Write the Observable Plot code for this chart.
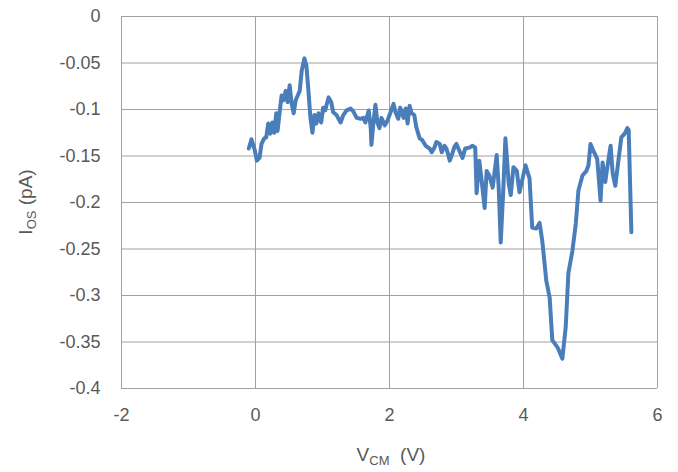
<!DOCTYPE html>
<html>
<head>
<meta charset="utf-8">
<script src="https://cdn.jsdelivr.net/npm/d3@7"></script>
<script src="https://cdn.jsdelivr.net/npm/@observablehq/plot@0.6"></script>
<style>
  html, body { margin: 0; padding: 0; background: #fff; }
  #chart { width: 678px; height: 472px; }
</style>
</head>
<body>
<div id="chart"></div>
<script>
const xTicks = [-2, 0, 2, 4, 6];
const yTicks = [0, -0.05, -0.1, -0.15, -0.2, -0.25, -0.3, -0.35, -0.4];

const vcm = [
  -0.10, -0.06, -0.01, 0.02, 0.06, 0.09, 0.13, 0.16, 0.19, 0.22,
  0.25, 0.28, 0.31, 0.33, 0.36, 0.39, 0.42, 0.45, 0.48, 0.51,
  0.54, 0.57, 0.60, 0.63, 0.66, 0.69, 0.73, 0.76, 0.79, 0.82,
  0.85, 0.88, 0.91, 0.94, 0.98, 1.01, 1.04, 1.09, 1.13, 1.16,
  1.21, 1.27, 1.31, 1.36, 1.42, 1.46, 1.51, 1.57, 1.61, 1.64,
  1.69, 1.72, 1.73, 1.76, 1.79, 1.82, 1.85, 1.88, 1.93, 1.97,
  2.01, 2.06, 2.09, 2.13, 2.16, 2.21, 2.24, 2.27, 2.30, 2.33,
  2.37, 2.40, 2.45, 2.49, 2.54, 2.60, 2.63, 2.67, 2.70, 2.75,
  2.78, 2.82, 2.85, 2.90, 2.93, 2.97, 3.00, 3.04, 3.09, 3.13,
  3.19, 3.24, 3.28, 3.30, 3.34, 3.37, 3.42, 3.45, 3.49, 3.54,
  3.60, 3.63, 3.66, 3.70, 3.73, 3.78, 3.81, 3.85, 3.90, 3.94,
  3.99, 4.03, 4.09, 4.13, 4.19, 4.24, 4.28, 4.34, 4.39, 4.43,
  4.51, 4.58, 4.63, 4.67, 4.73, 4.78, 4.82, 4.88, 4.94, 4.97,
  5.00, 5.04, 5.10, 5.15, 5.18, 5.22, 5.27, 5.30, 5.33, 5.37,
  5.42, 5.46, 5.51, 5.55, 5.57, 5.61
];
const ios = [
  -0.142, -0.132, -0.144, -0.155, -0.152, -0.137, -0.131, -0.130, -0.115, -0.126,
  -0.114, -0.125, -0.104, -0.123, -0.103, -0.085, -0.090, -0.080, -0.092, -0.074,
  -0.094, -0.104, -0.090, -0.085, -0.080, -0.058, -0.045, -0.053, -0.080, -0.109,
  -0.125, -0.106, -0.115, -0.104, -0.114, -0.098, -0.101, -0.087, -0.092, -0.103,
  -0.106, -0.114, -0.106, -0.101, -0.099, -0.102, -0.109, -0.110, -0.109, -0.114,
  -0.101, -0.120, -0.138, -0.114, -0.095, -0.114, -0.120, -0.109, -0.117, -0.112,
  -0.104, -0.094, -0.103, -0.110, -0.098, -0.109, -0.099, -0.115, -0.096, -0.104,
  -0.106, -0.119, -0.131, -0.133, -0.139, -0.142, -0.146, -0.141, -0.135, -0.137,
  -0.146, -0.139, -0.142, -0.155, -0.149, -0.140, -0.137, -0.144, -0.152, -0.142,
  -0.141, -0.139, -0.141, -0.190, -0.155, -0.173, -0.206, -0.166, -0.171, -0.184,
  -0.149, -0.184, -0.243, -0.184, -0.131, -0.180, -0.192, -0.162, -0.166, -0.189,
  -0.173, -0.160, -0.174, -0.227, -0.228, -0.222, -0.241, -0.284, -0.302, -0.348,
  -0.356, -0.368, -0.334, -0.276, -0.252, -0.223, -0.187, -0.171, -0.166, -0.160,
  -0.137, -0.144, -0.153, -0.198, -0.157, -0.178, -0.153, -0.139, -0.168, -0.182,
  -0.153, -0.130, -0.126, -0.120, -0.122, -0.232
];

const data = vcm.map((v, i) => ({vcm: v, ios: ios[i]}));

const W = 678, H = 472;
const mL = 121, mR = 21, mT = 16, mB = 84;
const gridColor = "#a0a0a0";

const chart = Plot.plot({
  width: W,
  height: H,
  marginLeft: mL,
  marginRight: mR,
  marginTop: mT,
  marginBottom: mB,
  style: {
    fontFamily: "'Liberation Sans', Arial, sans-serif",
    fontSize: "18px",
    color: "#595959",
    background: "#fff",
    overflow: "visible"
  },
  x: {domain: [-2, 6]},
  y: {domain: [-0.4, 0]},
  marks: [
    Plot.gridX(xTicks, {stroke: gridColor, strokeOpacity: 1, strokeWidth: 1}),
    Plot.gridY(yTicks, {stroke: gridColor, strokeOpacity: 1, strokeWidth: 1}),
    Plot.ruleX([-2], {stroke: gridColor, strokeOpacity: 1}),
    Plot.ruleY([-0.4], {stroke: gridColor, strokeOpacity: 1}),
    Plot.axisX(xTicks, {tickSize: 0, tickPadding: 20, label: null, tickFormat: d => String(d), fill: "#595959"}),
    Plot.axisY(yTicks, {tickSize: 0, tickPadding: 21, label: null, tickFormat: d => String(d), fill: "#595959"}),
    Plot.line(data, {x: "vcm", y: "ios", stroke: "#4a7ebb", strokeWidth: 4, strokeLinejoin: "round", strokeLinecap: "round"})
  ]
});

const svg = d3.select(chart);
// X axis title with subscript
const xt = svg.append("text")
  .attr("x", 391).attr("y", 461)
  .attr("text-anchor", "middle")
  .attr("fill", "#595959")
  .style("font-family", "'Liberation Sans', Arial, sans-serif")
  .style("font-size", "19px");
xt.append("tspan").text("V");
xt.append("tspan").attr("font-size", "13px").attr("dy", "4").text("CM");
xt.append("tspan").attr("dy", "-4").text("\u00A0 (V)");

// Y axis title with subscript
const yt = svg.append("text")
  .attr("transform", "translate(32,202) rotate(-90)")
  .attr("text-anchor", "middle")
  .attr("fill", "#595959")
  .style("font-family", "'Liberation Sans', Arial, sans-serif")
  .style("font-size", "19px");
yt.append("tspan").text("I");
yt.append("tspan").attr("font-size", "13px").attr("dy", "4").text("OS");
yt.append("tspan").attr("dy", "-4").text(" (pA)");

document.getElementById("chart").appendChild(chart);
</script>
</body>
</html>
